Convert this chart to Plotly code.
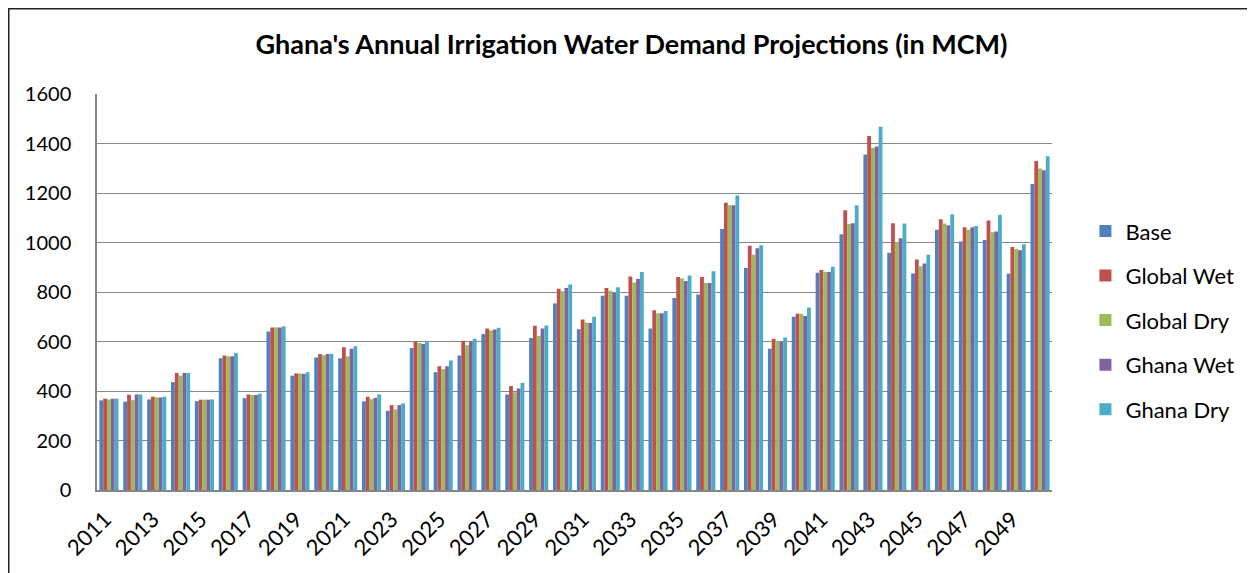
import plotly.graph_objects as go

years = [str(y) for y in range(2011, 2051)]
tick_years = [str(y) for y in range(2011, 2051, 2)]

base = [362, 357, 366, 436, 359, 532, 371, 640, 462, 535,
        532, 358, 320, 574, 476, 543, 630, 386, 614, 754,
        650, 785, 785, 653, 776, 790, 1055, 897, 571, 700,
        878, 1033, 1356, 959, 875, 1052, 1004, 1010, 874, 1236]
global_wet = [369, 385, 377, 473, 365, 543, 386, 657, 471, 549,
              577, 377, 343, 600, 500, 603, 653, 420, 664, 813,
              689, 816, 863, 726, 861, 861, 1161, 987, 611, 712,
              889, 1130, 1430, 1078, 931, 1094, 1062, 1089, 982, 1329]
global_dry = [366, 363, 374, 462, 365, 540, 384, 657, 471, 544,
              540, 367, 326, 594, 489, 585, 645, 395, 622, 803,
              677, 805, 838, 714, 855, 836, 1151, 951, 603, 712,
              881, 1075, 1383, 1002, 904, 1077, 1052, 1041, 974, 1299]
ghana_wet = [369, 386, 374, 473, 365, 540, 384, 657, 469, 549,
             571, 372, 343, 590, 500, 600, 648, 410, 653, 816,
             675, 796, 853, 714, 844, 836, 1151, 977, 598, 703,
             881, 1078, 1388, 1017, 915, 1070, 1062, 1044, 969, 1292]
ghana_dry = [369, 386, 377, 473, 366, 554, 389, 662, 476, 551,
             581, 386, 350, 601, 523, 611, 656, 433, 665, 830,
             700, 819, 881, 723, 867, 884, 1190, 989, 616, 737,
             902, 1151, 1468, 1077, 951, 1114, 1067, 1112, 993, 1348]

series_names = ["Base", "Global Wet", "Global Dry", "Ghana Wet", "Ghana Dry"]
series_values = [base, global_wet, global_dry, ghana_wet, ghana_dry]
colors = ["#4F81BD", "#C0504D", "#9BBB59", "#8064A2", "#4BACC6"]

fig = go.Figure()
for name, vals, col in zip(series_names, series_values, colors):
    fig.add_trace(go.Bar(x=years, y=vals, name=name, marker_color=col,
                         marker_line_width=0, legendgroup=name))

FONT = "Lato, Calibri, Carlito, sans-serif"
grid_col = "#868686"

W, H = 1247, 565
L, T = 89, 86
PW, PH = 955, 396
fig.update_layout(
    width=W, height=H,
    margin=dict(l=L, r=W - L - PW, t=T, b=H - T - PH, autoexpand=False),
    paper_bgcolor="white", plot_bgcolor="white",
    barmode="group", bargap=0.2, bargroupgap=0,
    font=dict(family=FONT, size=17, color="black"),
    title=dict(text="<b>Ghana's Annual Irrigation Water Demand Projections (in MCM)</b>",
               x=0.5, xanchor="center", y=0.935, yanchor="middle",
               font=dict(family=FONT, size=27, color="black")),
    legend=dict(x=1.035, xanchor="left", y=0.429, yanchor="middle",
                font=dict(family=FONT, size=22), tracegroupgap=13,
                itemwidth=30, bgcolor="rgba(0,0,0,0)"),
    xaxis=dict(type="category", tickmode="array", tickvals=tick_years, ticktext=tick_years,
               tickangle=-45, showgrid=False, showline=True, linecolor=grid_col, linewidth=1.5,
               ticks="outside", ticklen=6, tickcolor="rgba(0,0,0,0)", automargin=False,
               ticklabelshift=-4, tickfont=dict(family=FONT, size=22)),
    yaxis=dict(range=[0, 1600], tickvals=list(range(0, 1601, 200)), showgrid=True,
               gridcolor=grid_col, gridwidth=1.2, showline=True, linecolor=grid_col, linewidth=1.5,
               ticks="outside", ticklen=20, tickcolor="rgba(0,0,0,0)", automargin=False,
               tickfont=dict(family=FONT, size=20), zeroline=False),
    shapes=[dict(type="rect", xref="paper", yref="paper",
                 x0=-L / PW, x1=1.3, y0=-0.4, y1=1 + T / PH,
                 line=dict(color="#222222", width=3), fillcolor="rgba(0,0,0,0)")],
)

fig.write_html("out.html")
